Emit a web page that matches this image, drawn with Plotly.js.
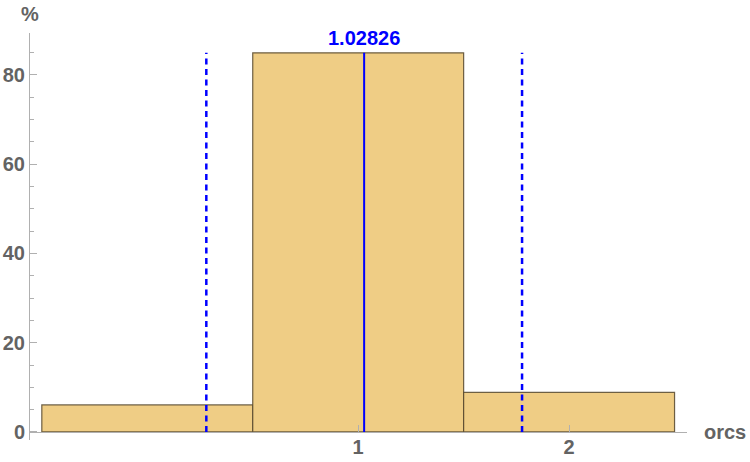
<!DOCTYPE html>
<html>
<head>
<meta charset="utf-8">
<script src="https://cdn.plot.ly/plotly-3.0.1.min.js"></script>
<style>html,body{margin:0;padding:0;background:#fff;}#chart{width:750px;height:462px;}</style>
</head>
<body>
<div id="chart"></div>
<script>
// Data
const binCenters = [0, 1, 2];
const binWidth = 1;
const percents = [6.05, 84.95, 8.85];
const meanValue = 1.02826;
const sdLines = [0.28, 1.777];
const xTicks = [1, 2];
const yTicks = [0, 20, 40, 60, 80];

const FONT = "Liberation Sans, Arial, sans-serif";
const GRAY = "#636363";
const topY = Math.max(...percents);

const shapes = [];
shapes.push({type:'line', xref:'x', yref:'y', x0:meanValue, x1:meanValue, y0:0, y1:topY,
  line:{color:'#0000ff', width:2}});
sdLines.forEach(v => shapes.push({type:'line', xref:'x', yref:'y', x0:v, x1:v, y0:0, y1:topY,
  line:{color:'#0000ff', width:2.5, dash:'6px,4.5px'}}));

const data = [{
  type:'bar', x:binCenters, y:percents, width:binWidth,
  marker:{color:'#EFCD85', line:{color:'rgba(85,70,45,0.85)', width:1.2}},
  hoverinfo:'none'
}];

const layout = {
  width:750, height:462,
  margin:{l:29.5, r:63.3, t:33, b:22},
  paper_bgcolor:'#fff', plot_bgcolor:'#fff',
  showlegend:false,
  bargap:0,
  xaxis:{
    range:[-0.556, 2.559], anchor:'free', position:(0 - (-1.8)) / (89.4 + 1.8),
    tickvals:xTicks, ticktext:xTicks.map(String),
    ticks:'inside', ticklen:7, tickwidth:1, tickcolor:'#b0b0b0',
    ticklabelstandoff:-3,
    showline:true, linecolor:'#b0b0b0', linewidth:1,
    showgrid:false, zeroline:false,
    tickfont:{family:FONT, size:20, color:GRAY, weight:'bold'}
  },
  yaxis:{
    range:[-1.8, 89.4],
    tickvals:yTicks, ticktext:yTicks.map(String),
    ticks:'inside', ticklen:7, tickwidth:1, tickcolor:'#b0b0b0',
    minor:{dtick:5, ticks:'inside', ticklen:4, tickcolor:'#b0b0b0', tickwidth:1},
    showline:true, linecolor:'#b0b0b0', linewidth:1,
    showgrid:false, zeroline:false,
    tickfont:{family:FONT, size:20, color:GRAY, weight:'bold'}
  },
  shapes:shapes,
  annotations:[
    {xref:'x', yref:'y', x:meanValue, y:topY, yanchor:'bottom', yshift:2, showarrow:false,
     text:meanValue.toFixed(5), font:{family:FONT, size:20, color:'#0000ff', weight:'bold'}},
    {xref:'paper', yref:'paper', x:0, y:1, xanchor:'center', yanchor:'bottom', yshift:6, showarrow:false,
     text:'%', font:{family:FONT, size:20, color:GRAY, weight:'bold'}},
    {xref:'paper', yref:'y', x:1, y:0, xanchor:'left', yanchor:'middle', xshift:15, showarrow:false,
     text:'orcs', font:{family:FONT, size:20, color:GRAY, weight:'bold'}}
  ]
};

Plotly.newPlot('chart', data, layout, {displayModeBar:false, staticPlot:true});
</script>
</body>
</html>
